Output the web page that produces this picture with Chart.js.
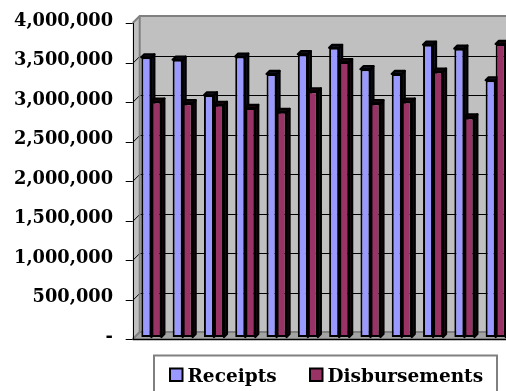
<!DOCTYPE html>
<html>
<head>
<meta charset="utf-8">
<script src="https://cdn.jsdelivr.net/npm/chart.js@4/dist/chart.umd.min.js"></script>
<style>
  html, body { margin: 0; padding: 0; background: #fff; overflow: hidden; width: 506px; height: 391px; }
  canvas { display: block; }
</style>
</head>
<body>
<canvas id="chart" width="520" height="391"></canvas>
<script>
// Monthly cash flow
const months = ['Jan', 'Feb', 'Mar', 'Apr', 'May', 'Jun', 'Jul', 'Aug', 'Sep', 'Oct', 'Nov', 'Dec'];
const receipts      = [3540000, 3510000, 3060000, 3550000, 3330000, 3580000, 3660000, 3390000, 3330000, 3700000, 3650000, 3250000];
const disbursements = [2980000, 2960000, 2940000, 2900000, 2850000, 3110000, 3480000, 2960000, 2980000, 3360000, 2780000, 3710000];
const yMax  = 4000000;
const yStep = 500000;

const seriesNames  = ['Receipts', 'Disbursements'];
const seriesFill   = ['#9999FF', '#993366'];
const seriesShade  = ['#14142a', '#220a16'];

const FONT = 'DejaVu Serif';

// depth offsets relative to the plane of the bar fronts
const FRONT = { dx: -3, dy: 2 };
const BACK  = { dx: 4,  dy: -5 };
const BAR_DEPTH = 3;

function poly(ctx, pts, fill, stroke, lw) {
  ctx.beginPath();
  ctx.moveTo(pts[0][0], pts[0][1]);
  for (let i = 1; i < pts.length; i++) ctx.lineTo(pts[i][0], pts[i][1]);
  ctx.closePath();
  if (fill) { ctx.fillStyle = fill; ctx.fill(); }
  if (stroke) { ctx.strokeStyle = stroke; ctx.lineWidth = lw || 1; ctx.lineJoin = 'round'; ctx.stroke(); }
}
function line(ctx, pts, color, lw) {
  ctx.beginPath();
  ctx.moveTo(pts[0][0], pts[0][1]);
  for (let i = 1; i < pts.length; i++) ctx.lineTo(pts[i][0], pts[i][1]);
  ctx.strokeStyle = color; ctx.lineWidth = lw || 1; ctx.stroke();
}

// walls, floor, gridlines and the depth faces of every column
const box3d = {
  id: 'box3d',
  beforeDatasetsDraw(chart) {
    const ctx = chart.ctx;
    const a = chart.chartArea;
    const ys = chart.scales.y;
    const fl = a.left + FRONT.dx, bl = a.left + BACK.dx;
    const right = a.right + 20;
    const fTop = ys.getPixelForValue(yMax) + FRONT.dy, bTop = ys.getPixelForValue(yMax) + BACK.dy;
    const fBot = ys.getPixelForValue(0) + FRONT.dy,    bBot = ys.getPixelForValue(0) + BACK.dy;

    ctx.save();
    // back wall
    poly(ctx, [[bl, bTop], [right, bTop], [right, bBot], [bl, bBot]], '#C0C0C0');
    // side wall
    poly(ctx, [[fl, fTop], [bl, bTop], [bl, bBot], [fl, fBot]], '#C0C0C0');
    // floor
    poly(ctx, [[fl, fBot], [bl, bBot], [right, bBot], [right, fBot]], '#A4A4A4');

    // gridlines across side wall and back wall, plus tick marks
    ys.ticks.forEach(t => {
      const y = ys.getPixelForValue(t.value);
      const yf = Math.round(y + FRONT.dy) + 0.5, yb = Math.round(y + BACK.dy) + 0.5;
      if (t.value > 0 && t.value < yMax) {
        line(ctx, [[fl, yf], [bl, yb], [right, yb]], '#000', 1);
      }
      line(ctx, [[fl - 7, yf], [fl, yf]], '#000', 1);
    });

    // wall edges
    line(ctx, [[fl, fTop], [bl, bTop], [right, bTop]], '#808080', 2);
    line(ctx, [[bl, bTop], [bl, bBot]], '#808080', 2);
    line(ctx, [[fl, fBot], [bl, bBot], [right, bBot]], '#808080', 2);
    line(ctx, [[Math.round(fl) + 0.5, fTop], [Math.round(fl) + 0.5, fBot]], '#000', 1);
    line(ctx, [[fl, Math.round(fBot) + 0.5], [right, Math.round(fBot) + 0.5]], '#000', 1.5);

    // depth faces of the columns (fronts are drawn by the bar controller)
    chart.data.datasets.forEach((ds, di) => {
      chart.getDatasetMeta(di).data.forEach(bar => {
        const p = bar.getProps(['x', 'y', 'base', 'width'], true);
        const l = p.x - p.width / 2, r = p.x + p.width / 2;
        const d = BAR_DEPTH;
        poly(ctx, [[r, p.y], [r + d, p.y - d], [r + d, p.base - d], [r, p.base]], seriesShade[di], '#000', 2.2);
        poly(ctx, [[l, p.y], [l + d, p.y - d], [r + d, p.y - d], [r, p.y]], seriesShade[di], '#000', 2.2);
      });
    });
    ctx.restore();
  },
  afterDraw(chart) {
    // legend box under the plot
    const ctx = chart.ctx;
    ctx.save();
    ctx.strokeStyle = '#808080';
    ctx.lineWidth = 2;
    ctx.strokeRect(154, 355.5, 343, 50);
    ctx.font = 'bold 18.5px "' + FONT + '"';
    ctx.textBaseline = 'alphabetic';
    const items = [{ x: 170, tx: 187.5 }, { x: 310, tx: 327.5 }];
    chart.data.datasets.forEach((ds, i) => {
      const it = items[i];
      ctx.fillStyle = ds.backgroundColor;
      ctx.fillRect(it.x, 368.5, 12.5, 12.5);
      ctx.strokeStyle = '#000';
      ctx.lineWidth = 2;
      ctx.strokeRect(it.x, 368.5, 12.5, 12.5);
      ctx.fillStyle = '#000';
      ctx.fillText(ds.label, it.tx, 382);
    });
    ctx.restore();
  }
};

const datasets = [receipts, disbursements].map((vals, i) => ({
  label: seriesNames[i],
  data: vals,
  backgroundColor: seriesFill[i],
  borderColor: '#000',
  borderWidth: 2,
  borderSkipped: false,
  categoryPercentage: 0.64,
  barPercentage: 1.0
}));

new Chart(document.getElementById('chart'), {
  type: 'bar',
  data: { labels: months, datasets },
  options: {
    responsive: false,
    animation: false,
    events: [],
    layout: { padding: { left: 0, right: 8.7, top: 21, bottom: 54 } },
    plugins: { legend: { display: false }, tooltip: { enabled: false } },
    scales: {
      x: { display: false },
      y: {
        min: 0,
        max: yMax,
        afterFit: s => { s.width = 135.7; s.paddingTop = 0; s.paddingBottom = 0; },
        grid: { display: false, drawTicks: false },
        border: { display: false },
        ticks: {
          stepSize: yStep,
          padding: 22.7,
          color: '#000',
          font: { family: FONT, size: 17.8, weight: 'bold' },
          callback: v => v === 0 ? '-' : Number(v).toLocaleString('en-US')
        }
      }
    }
  },
  plugins: [box3d]
});
</script>
</body>
</html>
